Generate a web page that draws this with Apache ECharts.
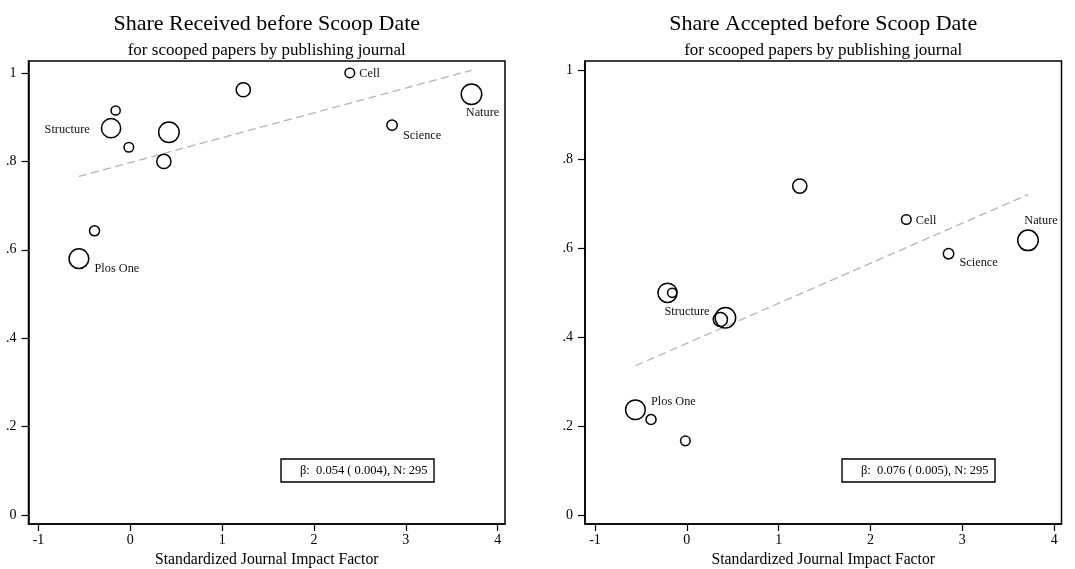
<!DOCTYPE html>
<html>
<head>
<meta charset="utf-8">
<script src="https://cdn.jsdelivr.net/npm/echarts@6/dist/echarts.min.js"></script>
<style>
  html, body { margin: 0; padding: 0; background: #fff; }
  #chart { width: 1075px; height: 569px; }
</style>
</head>
<body>
<div id="chart"></div>
<script>
// One marker per publishing journal: standardized impact factor (x),
// number of scooped papers (marker area), and the two shares (y).
const impactFactor  = [-0.56, -0.39, -0.21, -0.16, -0.016, 0.365, 0.42, 1.23, 2.39, 2.85, 3.715];
const papers        = [46, 12, 44, 10, 11, 24, 50, 24, 11, 13, 50];
const shareReceived = [0.580, 0.643, 0.875, 0.915, 0.832, 0.800, 0.866, 0.962, 1.000, 0.882, 0.952];
const shareAccepted = [0.237, 0.215, 0.500, 0.500, 0.167, 0.440, 0.444, 0.740, 0.665, 0.588, 0.618];

// Journal names printed next to selected markers
const receivedLabels = ['Plos One', '', 'Structure', '', '', '', '', '', 'Cell', 'Science', 'Nature'];
const acceptedLabels = ['Plos One', '', '', '', '', 'Structure', '', '', 'Cell', 'Science', 'Nature'];

// Weighted linear fit, drawn between its two end points
const fitX         = [-0.56, 3.715];
const receivedFitY = [0.766, 1.006];
const acceptedFitY = [0.336, 0.721];

// Regression summary
const receivedBeta = '0.054', receivedSE = '0.004';
const acceptedBeta = '0.076', acceptedSE = '0.005';
const sampleSize = 295;

const xTicks = [-1, 0, 1, 2, 3, 4];
const yTicks = [0, 0.2, 0.4, 0.6, 0.8, 1];

const titles = ['Share Received before Scoop Date', 'Share Accepted before Scoop Date'];
const subtitle = 'for scooped papers by publishing journal';
const xTitle = 'Standardized Journal Impact Factor';

const FONT = '"Liberation Serif", "Times New Roman", serif';

// label placement around each named marker (side, gap, extra shift)
const labelPlacement = [
  {
    'Plos One':  { position: 'right',  distance: 5,  dx: 0,  dy: 10 },
    'Structure': { position: 'left',   distance: 11, dx: 0,  dy: 2 },
    'Cell':      { position: 'right',  distance: 4,  dx: 0,  dy: 1 },
    'Science':   { position: 'right',  distance: 5,  dx: 0,  dy: 11 },
    'Nature':    { position: 'bottom', distance: 2,  dx: 11, dy: 0 }
  },
  {
    'Plos One':  { position: 'right',  distance: 5,  dx: 0,  dy: -8 },
    'Structure': { position: 'left',   distance: 3,  dx: 0,  dy: -8 },
    'Cell':      { position: 'right',  distance: 4,  dx: 0,  dy: 1 },
    'Science':   { position: 'right',  distance: 5,  dx: 0,  dy: 9 },
    'Nature':    { position: 'top',    distance: 3,  dx: 13, dy: 0 }
  }
];

function points(ys, labels, placement) {
  return impactFactor.map((x, i) => {
    const item = { value: [x, ys[i], papers[i]] };
    if (labels[i]) {
      const p = placement[labels[i]];
      item.name = labels[i];
      item.label = {
        show: true,
        formatter: labels[i],
        position: p.position,
        distance: p.distance,
        fontFamily: FONT,
        fontSize: 12.3,
        color: '#111'
      };
    }
    return item;
  });
}

const gridTop = 61, gridHeight = 463, gridWidth = 476.5;
const gridLefts = [28.5, 585];

function xAxisFor(idx) {
  return {
    gridIndex: idx,
    type: 'value',
    min: -1.109,
    max: 4.08,
    axisLine: { show: true, onZero: false, lineStyle: { color: '#000', width: 1.5 } },
    axisTick: { show: true, length: 7, customValues: xTicks, lineStyle: { color: '#000', width: 1.2 } },
    axisLabel: { customValues: xTicks, fontFamily: FONT, fontSize: 14, color: '#000', margin: 9 },
    splitLine: { show: false },
    name: xTitle,
    nameLocation: 'middle',
    nameGap: 26,
    nameTextStyle: { fontFamily: FONT, fontSize: 15.7, color: '#000' }
  };
}

function yAxisFor(idx, max) {
  return {
    gridIndex: idx,
    type: 'value',
    min: -0.020,
    max: max,
    axisLine: { show: true, onZero: false, lineStyle: { color: '#000', width: 1.5 } },
    axisTick: { show: true, length: 7, customValues: yTicks, lineStyle: { color: '#000', width: 1.2 } },
    axisLabel: {
      customValues: yTicks,
      fontFamily: FONT, fontSize: 14, color: '#000', margin: 12,
      formatter: v => (v === 0 ? '0' : v === 1 ? '1' : String(v).replace(/^0/, ''))
    },
    splitLine: { show: false }
  };
}

function scatterSeries(idx, ys, labels) {
  const placement = labelPlacement[idx];
  return {
    type: 'scatter',
    xAxisIndex: idx,
    yAxisIndex: idx,
    silent: true,
    data: points(ys, labels, placement),
    symbol: 'circle',
    symbolSize: v => 2.9 * Math.sqrt(v[2]),
    itemStyle: { color: 'rgba(0,0,0,0)', borderColor: '#000', borderWidth: 1.5, opacity: 1 },
    // nudge each journal name off its marker
    labelLayout: params => {
      const p = placement[labels[params.dataIndex]];
      return p ? { dx: p.dx, dy: p.dy, hideOverlap: false } : {};
    },
    z: 3
  };
}

function fitSeries(idx, ys) {
  return {
    type: 'line',
    xAxisIndex: idx,
    yAxisIndex: idx,
    silent: true,
    data: fitX.map((x, i) => [x, ys[i]]),
    symbol: 'none',
    lineStyle: { color: '#b4b4b4', width: 1.3, type: [8, 4.5] },
    z: 2
  };
}

function statBox(right, beta, se) {
  const w = 153, h = 23, top = 459;
  return {
    type: 'group',
    children: [
      { type: 'rect', shape: { x: right - w, y: top, width: w, height: h },
        style: { fill: '#fff', stroke: '#000', lineWidth: 1.4 } },
      { type: 'text', x: right - 6.5, y: top + h / 2,
        style: { text: 'β:  ' + beta + ' ( ' + se + '), N: ' + sampleSize,
                 font: '12.5px ' + FONT, fill: '#000', align: 'right', verticalAlign: 'middle' } }
    ]
  };
}

const centers = gridLefts.map(l => l + gridWidth / 2);

const option = {
  backgroundColor: '#fff',
  animation: false,
  title: [
    { text: titles[0], left: centers[0], top: 13.5, textAlign: 'center', padding: 0,
      textStyle: { fontFamily: FONT, fontSize: 22, fontWeight: 'normal', color: '#000' } },
    { text: subtitle, left: centers[0], top: 42.5, textAlign: 'center', padding: 0,
      textStyle: { fontFamily: FONT, fontSize: 17, fontWeight: 'normal', color: '#000' } },
    { text: titles[1], left: centers[1], top: 13.5, textAlign: 'center', padding: 0,
      textStyle: { fontFamily: FONT, fontSize: 22, fontWeight: 'normal', color: '#000' } },
    { text: subtitle, left: centers[1], top: 42.5, textAlign: 'center', padding: 0,
      textStyle: { fontFamily: FONT, fontSize: 17, fontWeight: 'normal', color: '#000' } }
  ],
  grid: gridLefts.map(l => ({
    left: l, top: gridTop, width: gridWidth, height: gridHeight,
    show: true, borderColor: '#000', borderWidth: 1.5, backgroundColor: '#fff',
    containLabel: false, outerBoundsMode: 'none'
  })),
  xAxis: [xAxisFor(0), xAxisFor(1)],
  yAxis: [yAxisFor(0, 1.027), yAxisFor(1, 1.0214)],
  series: [
    fitSeries(0, receivedFitY),
    scatterSeries(0, shareReceived, receivedLabels),
    fitSeries(1, acceptedFitY),
    scatterSeries(1, shareAccepted, acceptedLabels)
  ],
  graphic: [
    statBox(434, receivedBeta, receivedSE),
    statBox(995, acceptedBeta, acceptedSE)
  ]
};

const chart = echarts.init(document.getElementById('chart'), null, { renderer: 'canvas' });
chart.setOption(option);
</script>
</body>
</html>
